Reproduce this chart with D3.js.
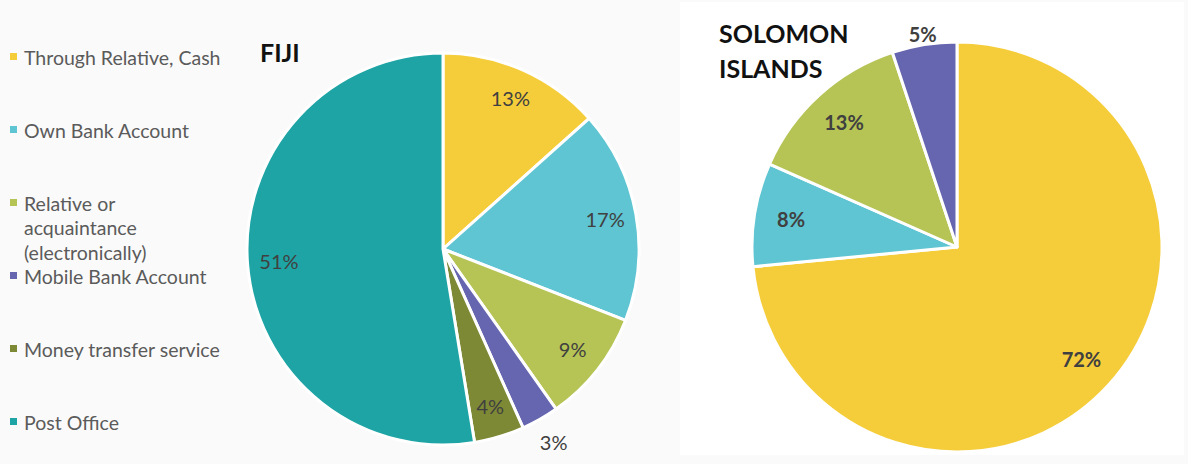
<!DOCTYPE html>
<html>
<head>
<meta charset="utf-8">
<script src="https://cdn.jsdelivr.net/npm/d3@7"></script>
<style>
  body { margin: 0; background: #fafafa; }
  svg { display: block; }
</style>
</head>
<body>
<svg id="chart" width="1188" height="464"></svg>
<script>
// categories, in legend order
let categories = [
  'Through Relative, Cash',
  'Own Bank Account',
  'Relative or acquaintance (electronically)',
  'Mobile Bank Account',
  'Money transfer service',
  'Post Office'
]
let legendLines = [
  ['Through Relative, Cash'],
  ['Own Bank Account'],
  ['Relative or', 'acquaintance', '(electronically)'],
  ['Mobile Bank Account'],
  ['Money transfer service'],
  ['Post Office']
]
let colors = ['#f5cd3b', '#5fc5d2', '#b6c455', '#6666b0', '#7d8934', '#1ea4a5']

// Fiji shares (%)
let fijiCategories = categories
let fijiValues = [13, 17, 9, 3, 4, 51]

// Solomon Islands shares (%)
let solomonCategories = [categories[0], categories[1], categories[2], categories[3]]
let solomonValues = [72, 8, 13, 5]

let svg = d3.select('#chart')
let font = 'Lato, "Open Sans", sans-serif'

let colorScale = d3.scaleOrdinal().domain(categories).range(colors)

// right panel background
svg.append('rect')
  .attr('x', 680).attr('y', 2)
  .attr('width', 504).attr('height', 453)
  .attr('fill', '#ffffff')

// legend
let legend = svg.append('g').attr('transform', 'translate(10,58)')
let items = legend.selectAll('.item')
  .data(categories)
  .enter()
  .append('g')
  .attr('class', 'item')
  .attr('transform', (d, i) => `translate(0,${i * 73})`)

items.append('rect')
  .attr('x', 0).attr('y', -5)
  .attr('width', 7).attr('height', 7)
  .attr('fill', d => colorScale(d))

items.each(function(d, i) {
  let g = d3.select(this)
  legendLines[i].forEach((line, j) => {
    g.append('text')
      .attr('x', 14)
      .attr('y', j * 24.5)
      .attr('dy', '0.35em')
      .attr('font-family', font)
      .attr('font-size', 19.5)
      .attr('fill', '#5b5b5b')
      .text(line)
  })
})

function drawPie(opts) {
  let data = opts.categories.map((c, i) => ({ category: c, value: opts.values[i] }))
  let pie = d3.pie().sort(null).value(d => d.value)
  let arcs = pie(data)

  let arc = d3.arc().innerRadius(0).outerRadius(opts.radius)

  let g = svg.append('g')
    .attr('transform', `translate(${opts.cx},${opts.cy})`)

  g.selectAll('path')
    .data(arcs)
    .enter()
    .append('path')
    .attr('d', arc)
    .attr('fill', d => colorScale(d.data.category))
    .attr('stroke', '#ffffff')
    .attr('stroke-width', 3)
    .attr('stroke-linejoin', 'round')

  g.selectAll('.label')
    .data(arcs)
    .enter()
    .append('text')
    .attr('class', 'label')
    .attr('transform', d => {
      let r = opts.radius * (opts.outside.includes(d.index) ? opts.outerRatio : opts.labelRatio)
      let a = (d.startAngle + d.endAngle) / 2
      return `translate(${Math.sin(a) * r},${-Math.cos(a) * r})`
    })
    .attr('text-anchor', 'middle')
    .attr('dy', '0.35em')
    .attr('font-family', font)
    .attr('font-size', 20)
    .attr('font-weight', opts.bold ? 'bold' : 'normal')
    .attr('fill', '#404040')
    .text(d => d.data.value + '%')

  let title = svg.append('text')
    .attr('x', opts.titleX)
    .attr('y', opts.titleY)
    .attr('font-family', font)
    .attr('font-size', 25)
    .attr('font-weight', 'bold')
    .attr('fill', '#111111')
  opts.title.forEach((t, i) => {
    title.append('tspan')
      .attr('x', opts.titleX)
      .attr('dy', i === 0 ? 0 : 35)
      .text(t)
  })
}

drawPie({
  categories: fijiCategories,
  values: fijiValues,
  cx: 443, cy: 249, radius: 196,
  labelRatio: 0.84, outerRatio: 1.14, outside: [3],
  bold: false,
  title: ['FIJI'], titleX: 260, titleY: 62
})

drawPie({
  categories: solomonCategories,
  values: solomonValues,
  cx: 957, cy: 247, radius: 205,
  labelRatio: 0.82, outerRatio: 1.05, outside: [3],
  bold: true,
  title: ['SOLOMON', 'ISLANDS'], titleX: 719, titleY: 43
})
</script>
</body>
</html>
